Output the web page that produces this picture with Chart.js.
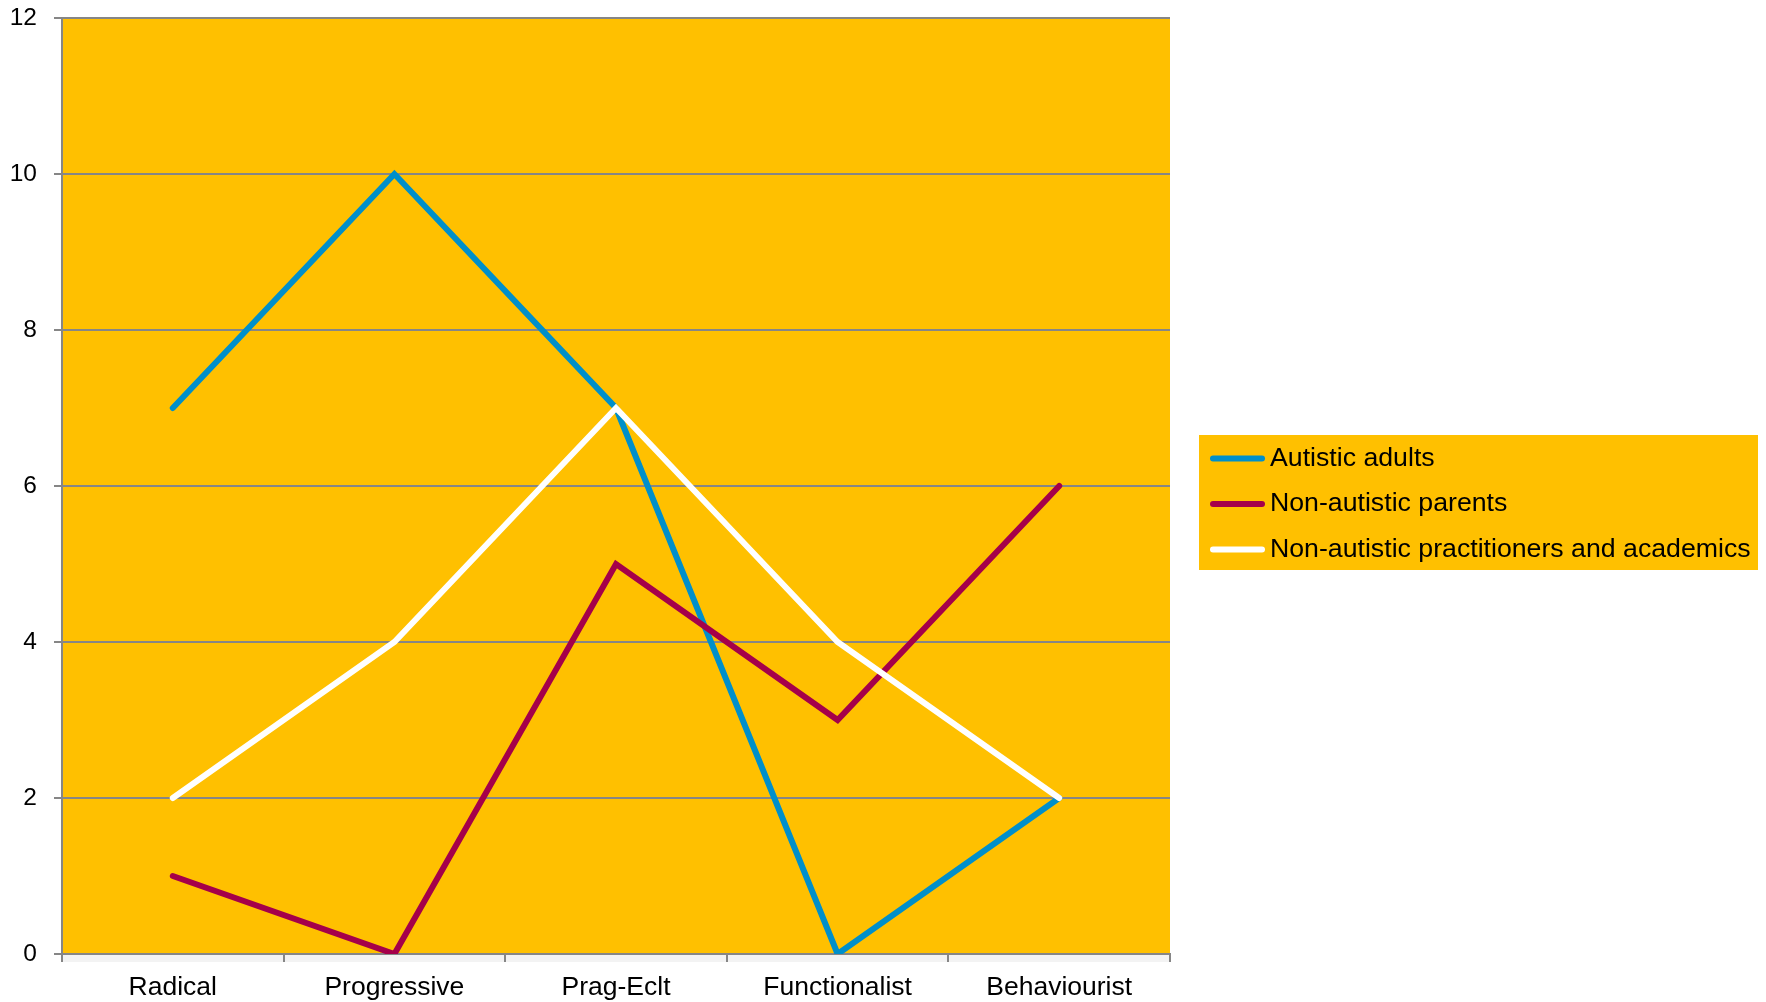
<!DOCTYPE html>
<html lang="en">
<head>
    <meta charset="UTF-8">
    <title>Views by group</title>
    <script src="https://cdn.jsdelivr.net/npm/chart.js"></script>
    <style>
        html, body { margin: 0; padding: 0; background: #ffffff; }
        #wrap { width: 1766px; height: 1002px; }
    </style>
</head>
<body>
    <div id="wrap">
        <canvas id="chart" width="1766" height="1002"></canvas>
    </div>

    <script>
        // Data
        const categories = ['Radical', 'Progressive', 'Prag-Eclt', 'Functionalist', 'Behaviourist'];
        const autisticAdults = [7, 10, 7, 0, 2];
        const nonAutisticParents = [1, 0, 5, 3, 6];
        const practitionersAcademics = [2, 4, 7, 4, 2];
        const seriesNames = ['Autistic adults', 'Non-autistic parents', 'Non-autistic practitioners and academics'];
        const yTicks = [0, 2, 4, 6, 8, 10, 12];

        const plotFill = '#FFC000';
        const gridColor = '#868686';
        const FONT = "'Liberation Sans', Arial, sans-serif";

        // orange plot area + grey floor strip under the axis
        const plotBackground = {
            id: 'plotBackground',
            beforeDraw(chart) {
                const a = chart.chartArea;
                const ctx = chart.ctx;
                ctx.save();
                ctx.fillStyle = plotFill;
                ctx.fillRect(a.left, a.top, a.right - a.left, a.bottom - a.top);
                ctx.fillStyle = '#f3f3f3';
                ctx.fillRect(a.left, a.bottom, a.right - a.left, 8);
                ctx.restore();
            }
        };

        // legend box on the right, orange background like the plot
        const boxLegend = {
            id: 'boxLegend',
            afterDraw(chart) {
                const a = chart.chartArea;
                const ctx = chart.ctx;
                const x0 = a.right + 29;
                const y0 = 435;
                const w = 559, h = 135;
                ctx.save();
                ctx.fillStyle = plotFill;
                ctx.fillRect(x0, y0, w, h);
                ctx.font = '26.7px ' + FONT;
                ctx.textBaseline = 'middle';
                ctx.textAlign = 'left';
                chart.data.datasets.forEach((ds, i) => {
                    const cy = y0 + 23.5 + i * 45.5;
                    ctx.strokeStyle = ds.borderColor;
                    ctx.lineWidth = 6;
                    ctx.lineCap = 'round';
                    ctx.beginPath();
                    ctx.moveTo(x0 + 14, cy);
                    ctx.lineTo(x0 + 63, cy);
                    ctx.stroke();
                    ctx.fillStyle = '#000000';
                    ctx.fillText(ds.label, x0 + 71, cy);
                });
                ctx.restore();
            }
        };

        const lineStyle = {
            borderWidth: 6,
            pointRadius: 0,
            tension: 0,
            fill: false,
            borderCapStyle: 'round',
            borderJoinStyle: 'miter'
        };

        new Chart(document.getElementById('chart'), {
            type: 'line',
            data: {
                labels: categories,
                datasets: [
                    Object.assign({ label: seriesNames[0], data: autisticAdults, borderColor: '#008FCA', order: 2 }, lineStyle),
                    Object.assign({ label: seriesNames[1], data: nonAutisticParents, borderColor: '#A5004A', order: 1 }, lineStyle),
                    Object.assign({ label: seriesNames[2], data: practitionersAcademics, borderColor: '#FFFFFF', order: 0 }, lineStyle)
                ]
            },
            options: {
                responsive: false,
                animation: false,
                layout: { padding: { left: 0, top: 18, right: 596, bottom: 0 } },
                plugins: {
                    legend: { display: false },
                    tooltip: { enabled: false }
                },
                scales: {
                    x: {
                        offset: true,
                        afterFit(scale) {
                            scale.height = 48;
                            scale.paddingLeft = 0;
                            scale.paddingRight = 0;
                        },
                        grid: {
                            offset: true,
                            drawOnChartArea: false,
                            drawTicks: true,
                            tickLength: 8,
                            color: gridColor,
                            lineWidth: 2
                        },
                        border: { color: gridColor, width: 2 },
                        ticks: {
                            color: '#000000',
                            padding: 10,
                            maxRotation: 0,
                            font: { family: FONT, size: 26.5 }
                        }
                    },
                    y: {
                        min: yTicks[0],
                        max: yTicks[yTicks.length - 1],
                        afterFit(scale) {
                            scale.width = 62;
                            scale.paddingTop = 0;
                            scale.paddingBottom = 0;
                        },
                        afterBuildTicks(scale) { scale.ticks = yTicks.map(v => ({ value: v })); },
                        grid: {
                            drawTicks: true,
                            tickLength: 8,
                            color: gridColor,
                            lineWidth: 2
                        },
                        border: { color: gridColor, width: 2 },
                        ticks: {
                            color: '#000000',
                            padding: 17,
                            font: { family: FONT, size: 24.5 }
                        }
                    }
                }
            },
            plugins: [plotBackground, boxLegend]
        });
    </script>
</body>
</html>
